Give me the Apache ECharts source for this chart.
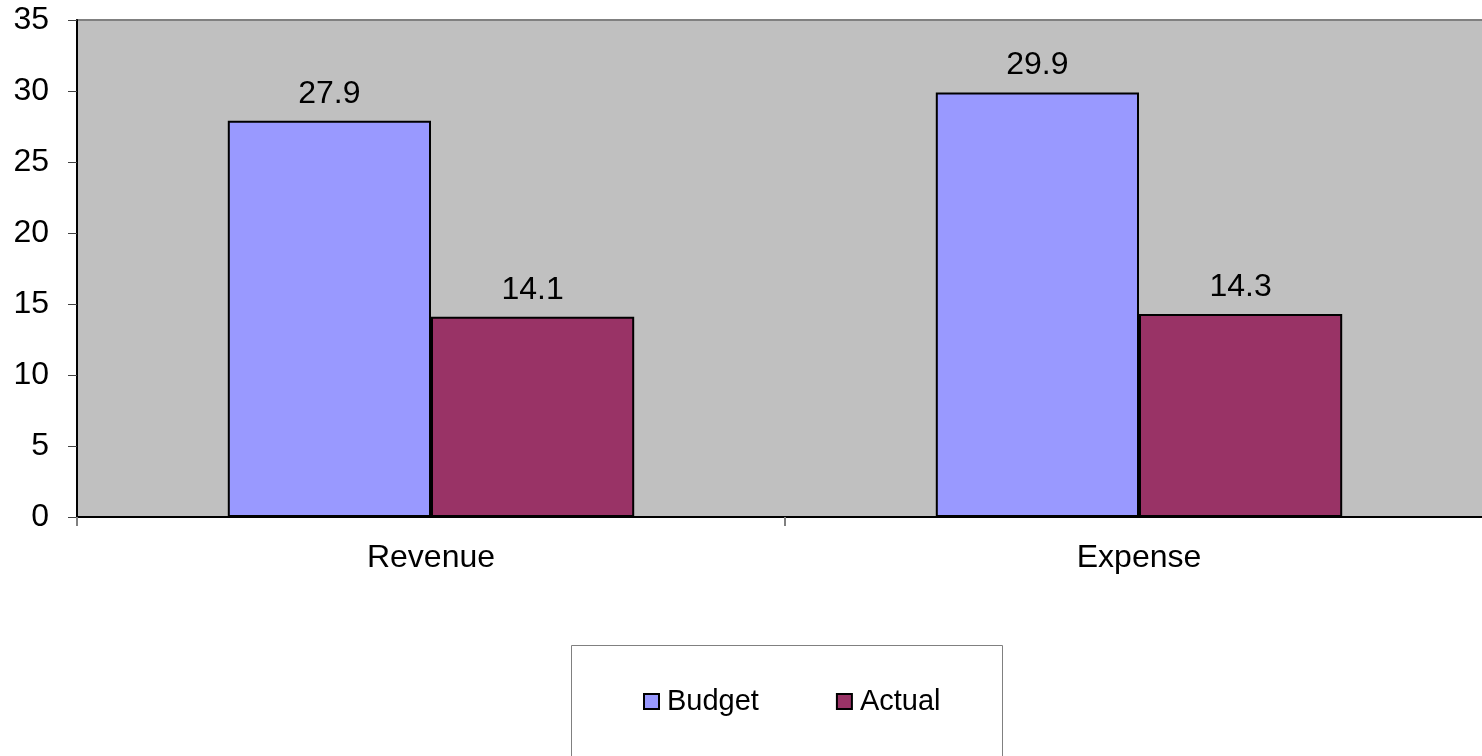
<!DOCTYPE html>
<html>
<head>
<meta charset="utf-8">
<script src="https://cdn.jsdelivr.net/npm/echarts@6/dist/echarts.min.js"></script>
<style>
html,body{margin:0;padding:0;background:#fff;}
#chart{width:1482px;height:756px;}
</style>
</head>
<body>
<div id="chart"></div>
<script>
const categories = ['Revenue', 'Expense'];
const seriesNames = ['Budget', 'Actual'];
const budgetValues = [27.9, 29.9];
const actualValues = [14.1, 14.3];
const yTicks = [0, 5, 10, 15, 20, 25, 30, 35];

const FONT = '"Liberation Sans", Arial, sans-serif';
const chart = echarts.init(document.getElementById('chart'));
const labelCfg = {
  show: true, position: 'top', distance: 11,
  color: '#000', fontSize: 32, fontFamily: FONT,
  formatter: p => p.value.toFixed(1)
};
chart.setOption({
  animation: false,
  backgroundColor: '#fff',
  textStyle: { fontFamily: FONT },
  grid: {
    left: 77, top: 20, width: 1416, height: 497,
    outerBoundsMode: 'none', containLabel: false,
    show: true, backgroundColor: '#C0C0C0', borderColor: '#808080', borderWidth: 2
  },
  graphic: [{
    type: 'rect', left: 571, top: 645, z: -1,
    shape: { width: 431, height: 130 },
    style: { fill: '#fff', stroke: '#808080', lineWidth: 1 }
  }],
  legend: {
    data: seriesNames,
    left: 643, top: 687, padding: 0,
    itemWidth: 15, itemHeight: 15, itemGap: 77,
    icon: 'rect',
    textStyle: { fontSize: 29, fontFamily: FONT, color: '#000', padding: [0, 0, 0, 3] },
    itemStyle: { borderColor: '#000', borderWidth: 2 }
  },
  xAxis: {
    type: 'category', data: categories,
    axisLine: { show: true, lineStyle: { color: '#000', width: 2 } },
    axisTick: { show: true, length: 9, lineStyle: { color: '#808080', width: 2 } },
    axisLabel: { fontSize: 32, color: '#000', margin: 25, fontFamily: FONT },
    splitLine: { show: false }
  },
  yAxis: {
    type: 'value', min: 0, max: 35, interval: 5,
    axisLine: { show: true, lineStyle: { color: '#000', width: 2 } },
    axisTick: { show: true, length: 9, lineStyle: { color: '#404040', width: 1 } },
    axisLabel: { fontSize: 32, color: '#000', margin: 28, fontFamily: FONT },
    splitLine: { show: false }
  },
  series: [
    {
      name: 'Budget', type: 'bar', data: budgetValues,
      barGap: '0%', barCategoryGap: '42.6%',
      itemStyle: { color: '#9999FF', borderColor: '#000', borderWidth: 2 },
      label: labelCfg
    },
    {
      name: 'Actual', type: 'bar', data: actualValues,
      itemStyle: { color: '#993366', borderColor: '#000', borderWidth: 2 },
      label: labelCfg
    }
  ]
});
</script>
</body>
</html>
